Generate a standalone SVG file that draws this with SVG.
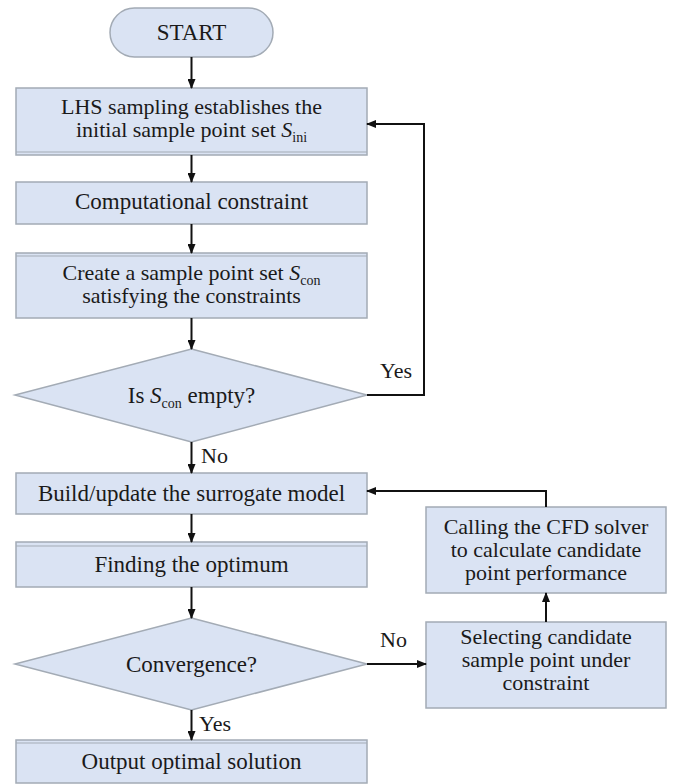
<svg xmlns="http://www.w3.org/2000/svg" width="674" height="784" viewBox="0 0 674 784">
<style>
.box{fill:#dae3f3;stroke:#a3abb5;stroke-width:1.5}
.inner{fill:none;stroke:#a3abb5;stroke-width:1}
.t{font-family:'Liberation Serif','Times New Roman',Times,serif;font-size:22px;fill:#1a1a1a;text-anchor:middle}
.lbl{font-family:'Liberation Serif','Times New Roman',Times,serif;font-size:22px;fill:#1a1a1a}
.i{font-style:italic}
.sub{font-size:14px}
.c{fill:none;stroke:#111;stroke-width:2}
</style>
<defs>
<marker id="ah" markerWidth="10" markerHeight="8" refX="9" refY="4" orient="auto" markerUnits="userSpaceOnUse">
<path d="M0,0 L10,4 L0,8 Z" fill="#111"/>
</marker>
</defs>
<rect width="674" height="784" fill="#fff"/>

<g id="start">
<rect class="box" x="110" y="8" width="163" height="49" rx="24.5"/>
<text class="t" x="191.5" y="40" style="font-size:23px">START</text>
</g>
<g id="lhs">
<rect class="box" x="16" y="88" width="351" height="67"/>
<line class="inner" x1="16" y1="152" x2="367" y2="152"/>
<text class="t" x="191.5" y="114">LHS sampling establishes the</text>
<text class="t" x="191.5" y="137">initial sample point set <tspan class="i">S</tspan><tspan class="sub" dy="5">ini</tspan></text>
</g>
<g id="constraint">
<rect class="box" x="16" y="182" width="351" height="42"/>
<text class="t" x="191.5" y="209" style="font-size:23px">Computational constraint</text>
</g>
<g id="create">
<rect class="box" x="16" y="253" width="351" height="65"/>
<line class="inner" x1="16" y1="256" x2="367" y2="256"/>
<text class="t" x="191.5" y="280">Create a sample point set <tspan class="i">S</tspan><tspan class="sub" dy="5">con</tspan></text>
<text class="t" x="191.5" y="303">satisfying the constraints</text>
</g>
<g id="empty">
<polygon class="box" points="191.5,349 367,395 191.5,442 15,395"/>
<text class="t" x="191.5" y="403" style="font-size:23px">Is <tspan class="i">S</tspan><tspan class="sub" dy="5">con</tspan><tspan dy="-5"> empty?</tspan></text>
</g>
<g id="build">
<rect class="box" x="16" y="473" width="351" height="41"/>
<text class="t" x="191.5" y="501" style="font-size:23px">Build/update the surrogate model</text>
</g>
<g id="finding">
<rect class="box" x="16" y="542" width="351" height="45"/>
<line class="inner" x1="16" y1="546" x2="367" y2="546"/>
<text class="t" x="191.5" y="572" style="font-size:23px">Finding the optimum</text>
</g>
<g id="convergence">
<polygon class="box" points="191.5,618 367,664 191.5,710 15,664"/>
<text class="t" x="191.5" y="672" style="font-size:23px">Convergence?</text>
</g>
<g id="output">
<rect class="box" x="16" y="740" width="351" height="43"/>
<line class="inner" x1="16" y1="743" x2="367" y2="743"/>
<text class="t" x="191.5" y="769" style="font-size:23px">Output optimal solution</text>
</g>
<g id="cfd">
<rect class="box" x="426" y="507" width="240" height="86"/>
<text class="t" x="546" y="534">Calling the CFD solver</text>
<text class="t" x="546" y="557">to calculate candidate</text>
<text class="t" x="546" y="580">point performance</text>
</g>
<g id="select">
<rect class="box" x="426" y="622" width="240" height="86"/>
<text class="t" x="546" y="644">Selecting candidate</text>
<text class="t" x="546" y="667">sample point under</text>
<text class="t" x="546" y="690">constraint</text>
</g>

<g id="connectors">
<line class="c" x1="191.5" y1="57" x2="191.5" y2="88" marker-end="url(#ah)"/>
<line class="c" x1="191.5" y1="155" x2="191.5" y2="182" marker-end="url(#ah)"/>
<line class="c" x1="191.5" y1="224" x2="191.5" y2="253" marker-end="url(#ah)"/>
<line class="c" x1="191.5" y1="318" x2="191.5" y2="349" marker-end="url(#ah)"/>
<polyline class="c" points="367,395 424,395 424,124 367,124" marker-end="url(#ah)"/>
<line class="c" x1="191.5" y1="442" x2="191.5" y2="473" marker-end="url(#ah)"/>
<line class="c" x1="191.5" y1="514" x2="191.5" y2="542" marker-end="url(#ah)"/>
<line class="c" x1="191.5" y1="587" x2="191.5" y2="618" marker-end="url(#ah)"/>
<line class="c" x1="191.5" y1="710" x2="191.5" y2="740" marker-end="url(#ah)"/>
<line class="c" x1="367" y1="664" x2="426" y2="664" marker-end="url(#ah)"/>
<line class="c" x1="546" y1="622" x2="546" y2="593" marker-end="url(#ah)"/>
<polyline class="c" points="546,507 546,491 367,491" marker-end="url(#ah)"/>
<text class="lbl" x="380" y="378">Yes</text>
<text class="lbl" x="201" y="463">No</text>
<text class="lbl" x="380" y="647">No</text>
<text class="lbl" x="199" y="731">Yes</text>
</g>
</svg>
